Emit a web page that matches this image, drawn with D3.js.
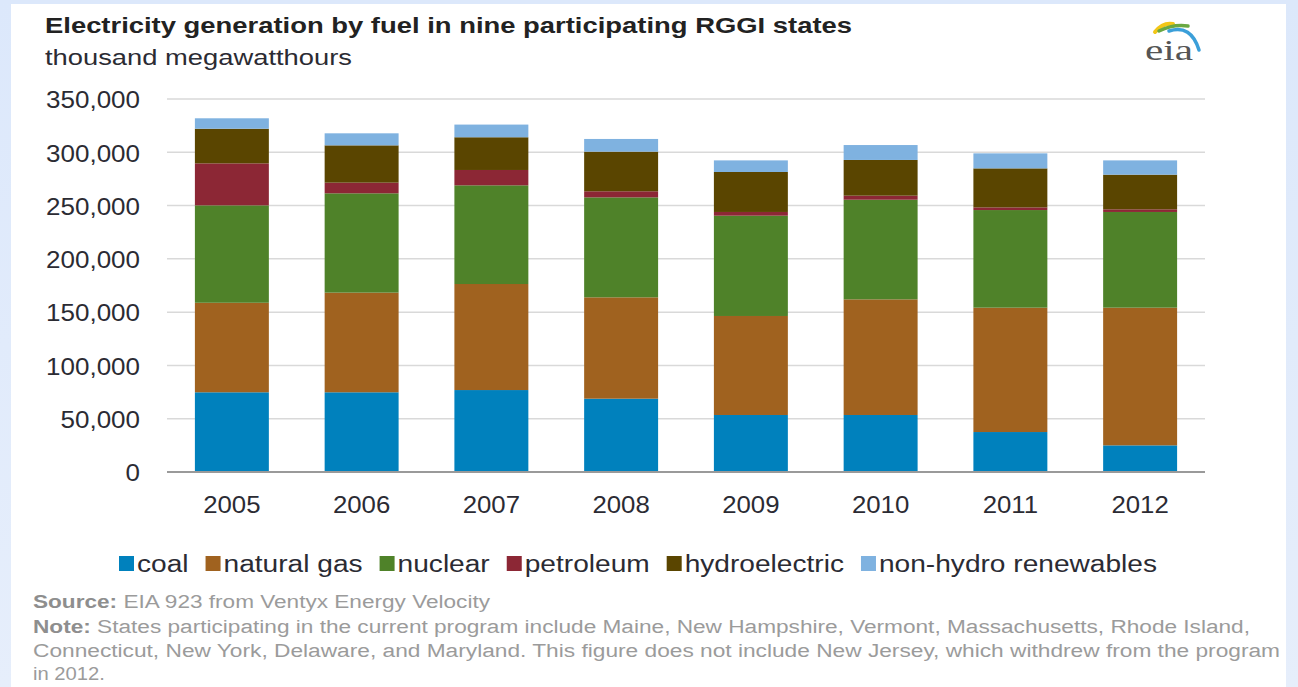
<!DOCTYPE html>
<html><head><meta charset="utf-8">
<script src="https://cdn.jsdelivr.net/npm/d3@7"></script>
<style>html,body{margin:0;padding:0;background:#fff;}svg{display:block;}</style>
</head><body>
<svg id="chart" width="1298" height="687"></svg>
<script>
const years = ["2005","2006","2007","2008","2009","2010","2011","2012"];
const coal        = [74800, 74800, 76900, 68800, 53500, 53500, 37500, 25000];
const naturalGas  = [84000, 93500, 99500, 95100, 92900, 108500, 116700, 129200];
const nuclear     = [91400, 93200, 92600, 93800, 94100, 93500, 91600, 89800];
const petroleum   = [39400, 10000, 14400, 5700, 3500, 3800, 2500, 2500];
const hydro       = [32500, 35000, 30700, 37200, 37500, 33500, 36600, 32500];
const renewables  = [9800, 11300, 11900, 11900, 10900, 14000, 14100, 13400];
const seriesNames = ["coal","natural gas","nuclear","petroleum","hydroelectric","non-hydro renewables"];
const seriesColors = ["#0081bd","#a0621f","#4f8229","#8c2735","#5a4500","#7fb2e0"];
const yTicks = [0,50000,100000,150000,200000,250000,300000,350000];

const seriesValues = [coal, naturalGas, nuclear, petroleum, hydro, renewables];
const rows = years.map((y,i)=>{const r={year:y}; seriesNames.forEach((s,j)=>r[s]=seriesValues[j][i]); return r;});

const svg = d3.select("#chart");
const W=1298,H=687;
const defs = svg.append("defs");
const lg = defs.append("linearGradient").attr("id","bg").attr("x1","0").attr("x2","0").attr("y1","0").attr("y2","1");
lg.append("stop").attr("offset","0").attr("stop-color","#dce8fb");
lg.append("stop").attr("offset","1").attr("stop-color","#e6eefb");
svg.append("rect").attr("width",W).attr("height",H).attr("fill","url(#bg)");
svg.append("rect").attr("x",11).attr("y",4).attr("width",1275).attr("height",H-4).attr("fill","#fff");

const font = "'Liberation Sans', Arial, sans-serif";
const x = d3.scaleBand().domain(years).range([167,1205]).paddingInner(0.43).paddingOuter(0.215);
const y = d3.scaleLinear().domain([0,350000]).range([472,99]);

function stretch(sel, k){
  sel.each(function(){
    const w = this.getComputedTextLength();
    d3.select(this).attr("textLength", w*k).attr("lengthAdjust","spacingAndGlyphs");
  });
}

// gridlines
svg.append("g").selectAll("line").data(yTicks.filter(d=>d>0)).join("line")
  .attr("x1",167).attr("x2",1205).attr("y1",d=>y(d)).attr("y2",d=>y(d))
  .attr("stroke","#d9d9d9").attr("stroke-width",1.5);

// y axis labels
const yAxis = d3.axisLeft(y).tickValues(yTicks).tickFormat(d3.format(",")).tickSize(0).tickPadding(0);
const ya = svg.append("g").attr("transform","translate(140,0)").call(yAxis);
ya.select(".domain").remove();
ya.selectAll("text").attr("font-family",font).attr("font-size",23).attr("fill","#2b2b33").attr("dy","0.38em").call(stretch,1.13);

// bars
const stack = d3.stack().keys(seriesNames)(rows);
svg.append("g").selectAll("g").data(stack).join("g")
  .attr("fill",(d,i)=>seriesColors[i])
  .selectAll("rect").data(d=>d).join("rect")
  .attr("x",d=>x(d.data.year)).attr("width",x.bandwidth())
  .attr("y",d=>y(d[1])).attr("height",d=>y(d[0])-y(d[1]));

// zero line
svg.append("line").attr("x1",167).attr("x2",1205).attr("y1",y(0)).attr("y2",y(0))
  .attr("stroke","#9a9a9a").attr("stroke-width",2);

// x axis
const xAxis = d3.axisBottom(x).tickSize(0).tickPadding(0);
const xa = svg.append("g").attr("transform","translate(0,496)").call(xAxis);
xa.select(".domain").remove();
xa.selectAll("text").attr("font-family",font).attr("font-size",23).attr("fill","#2b2b33").attr("dy","0.72em").call(stretch,1.12);

// title
svg.append("text").attr("x",45).attr("y",33).attr("font-family",font).attr("font-size",22).attr("font-weight","bold")
  .attr("fill","#222").attr("textLength",807).attr("lengthAdjust","spacingAndGlyphs")
  .text("Electricity generation by fuel in nine participating RGGI states");
svg.append("text").attr("x",45).attr("y",65).attr("font-family",font).attr("font-size",22)
  .attr("fill","#2b2b33").attr("textLength",307).attr("lengthAdjust","spacingAndGlyphs")
  .text("thousand megawatthours");

// legend: spans x 119 -> 1157
const lgG = svg.append("g");
const items = seriesNames.map((s,i)=>{
  const t = lgG.append("text").attr("y",572).attr("font-family",font).attr("font-size",23).attr("fill","#2b2b33").text(s);
  return {t, w:t.node().getComputedTextLength(), i};
});
const sw=15, tgap=3, igap=17, lStart=119, lEnd=1157;
const sumW = d3.sum(items,d=>d.w);
const k = (lEnd-lStart - items.length*(sw+tgap) - (items.length-1)*igap)/sumW;
let lx = lStart;
items.forEach(it=>{
  lgG.append("rect").attr("x",lx).attr("y",556).attr("width",sw).attr("height",sw).attr("fill",seriesColors[it.i]);
  const w = it.w*k;
  it.t.attr("x",lx+sw+tgap).attr("textLength",w).attr("lengthAdjust","spacingAndGlyphs");
  lx += sw+tgap+w+igap;
});

// footnotes
const fg = "#9b9b9b";
function foot(yy, bold, rest, len){
  const t = svg.append("text").attr("x",33).attr("y",yy).attr("font-family",font).attr("font-size",18).attr("fill",fg);
  if(len) t.attr("textLength",len).attr("lengthAdjust","spacingAndGlyphs");
  if(bold) t.append("tspan").attr("font-weight","bold").attr("fill","#8e8e8e").text(bold);
  t.append("tspan").text(rest);
}
foot(608,"Source:"," EIA 923 from Ventyx Energy Velocity",457);
foot(633,"Note:"," States participating in the current program include Maine, New Hampshire, Vermont, Massachusetts, Rhode Island,",1217);
foot(657,null,"Connecticut, New York, Delaware, and Maryland. This figure does not include New Jersey, which withdrew from the program",1247);
foot(680,null,"in 2012.",72);

// eia logo
const logo = svg.append("g").attr("transform","translate(1143,0)");
logo.append("path").attr("d","M12,32 Q20,22 30,24").attr("stroke","#f2c618").attr("stroke-width",4).attr("fill","none").attr("stroke-linecap","round");
logo.append("path").attr("d","M16,31 Q30,24 45,26").attr("stroke","#6aa842").attr("stroke-width",3.5).attr("fill","none").attr("stroke-linecap","round");
logo.append("path").attr("d","M26,31 Q48,24 56,50").attr("stroke","#3b9fd9").attr("stroke-width",3.5).attr("fill","none").attr("stroke-linecap","round");
logo.append("text").attr("x",2).attr("y",60).attr("font-family","'Liberation Serif', 'DejaVu Serif', serif").attr("font-size",30)
  .attr("fill","#555").attr("textLength",48).attr("lengthAdjust","spacingAndGlyphs").text("eia");
</script>
</body></html>
